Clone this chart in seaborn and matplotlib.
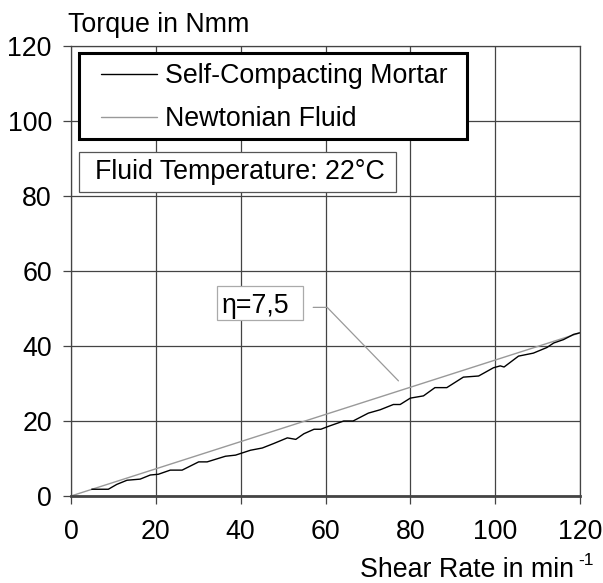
import matplotlib
matplotlib.use("Agg")
import matplotlib.pyplot as plt
from matplotlib.patches import Rectangle
import pandas as pd
import seaborn as sns

# shear rate in 1/min and torque in Nmm
rate_mortar = [4.9, 8.8, 10.8, 13.2, 16.3, 18.7, 20.6, 23.4, 26.2, 30.1, 32.1,
               36.4, 38.8, 42.3, 45.1, 47.8, 51.0, 53.0, 54.9, 57.3, 58.9, 61.0,
               64.3, 66.5, 70.1, 72.9, 76.0, 77.6, 80.0, 83.1, 85.8, 88.6, 92.5,
               96.1, 99.6, 101.2, 102.1, 105.5, 109.0, 112.2, 113.8, 116.1,
               118.5, 119.9]
torque_mortar = [1.8, 1.8, 3.1, 4.2, 4.5, 5.6, 5.8, 6.9, 6.9, 9.1, 9.1,
                 10.6, 10.9, 12.2, 12.8, 14.0, 15.5, 15.1, 16.6, 17.8, 17.8, 18.7,
                 20.0, 20.0, 22.1, 23.0, 24.4, 24.4, 26.1, 26.7, 28.9, 28.9, 31.7,
                 32.0, 34.2, 34.7, 34.4, 37.3, 38.1, 39.6, 40.8, 41.7,
                 43.1, 43.5]

# newtonian reference line (eta = 7,5)
rate_newton = [0, 120]
torque_newton = [0, 43.5]

x_ticks = [0, 20, 40, 60, 80, 100, 120]
y_ticks = [0, 20, 40, 60, 80, 100, 120]

sns.set_style("white")
plt.rcParams["font.family"] = ["Liberation Sans", "DejaVu Sans"]
plt.rcParams["font.size"] = 19.3
plt.rcParams["text.color"] = "black"
plt.rcParams["xtick.labelcolor"] = "black"
plt.rcParams["ytick.labelcolor"] = "black"

W, H = 603, 583
fig = plt.figure(figsize=(W / 100, H / 100), dpi=100)
ax = fig.add_axes([71 / W, 87 / H, 509 / W, 450 / H])

df_m = pd.DataFrame({"rate": rate_mortar, "torque": torque_mortar})
df_n = pd.DataFrame({"rate": rate_newton, "torque": torque_newton})

sns.lineplot(data=df_n, x="rate", y="torque", color="#999999", lw=1.0,
             label="Newtonian Fluid", ax=ax, legend=False)
sns.lineplot(data=df_m, x="rate", y="torque", color="black", lw=1.0,
             label="Self-Compacting Mortar", ax=ax, legend=False)

ax.set_xlim(0, 120)
ax.set_ylim(0, 120)
ax.set_xticks(x_ticks)
ax.set_yticks(y_ticks)
ax.set_xlabel("")
ax.set_ylabel("")
ax.grid(True, color="#444444", lw=0.9)
for side in ["left", "right", "top"]:
    ax.spines[side].set_color("#444444")
    ax.spines[side].set_linewidth(0.9)
ax.spines["bottom"].set_color("#444444")
ax.spines["bottom"].set_linewidth(2.0)
ax.tick_params(axis="both", direction="out", length=5.8, width=0.9,
               color="#444444", labelsize=19.3, labelcolor="black",
               bottom=True, left=True)
ax.tick_params(axis="y", pad=8)
ax.tick_params(axis="x", pad=11)

# legend: frame drawn by hand, entries placed inside
ax.add_patch(Rectangle((8 / 509, (496 - 139) / 450), 388 / 509, 86 / 450,
                       transform=ax.transAxes, fill=True, facecolor="white",
                       edgecolor="black", lw=2.2, zorder=5))
lines = ax.get_lines()
leg = ax.legend([lines[1], lines[0]], ["Self-Compacting Mortar", "Newtonian Fluid"],
                loc="upper left", bbox_to_anchor=((101 - 71) / 509, (496 - 63) / 450),
                frameon=False, borderpad=0, borderaxespad=0, handlelength=2.1,
                handletextpad=0.3, labelspacing=0.64, fontsize=19.3)
leg.set_zorder(6)
for t in leg.get_texts():
    t.set_color("black")

# fluid temperature box
ax.add_patch(Rectangle((8 / 509, (496 - 192) / 450), 317 / 509, 40 / 450,
                       transform=ax.transAxes, facecolor="white",
                       edgecolor="#555555", lw=0.9, zorder=5))
ax.text((95 - 71) / 509, (496 - 179) / 450, "Fluid Temperature: 22°C",
        transform=ax.transAxes, va="baseline", ha="left", fontsize=19.3, zorder=6)

# viscosity label with leader line
ax.add_patch(Rectangle((34.4, 46.85), 20.3, 9.07, facecolor="white",
                       edgecolor="#aaaaaa", lw=0.9, zorder=5))
ax.text(35.6, 48.7, "η=7,5", va="baseline", ha="left", fontsize=19.3, zorder=6)
ax.plot([57.1, 60.4, 77.2], [50.3, 50.3, 30.7], color="#999999", lw=0.9)

fig.text(68 / W, (H - 32) / H, "Torque in Nmm", fontsize=19.3,
         ha="left", va="baseline")
fig.text(574 / W, (H - 577) / H, "Shear Rate in min", fontsize=19.3,
         ha="right", va="baseline")
fig.text(578 / W, (H - 565) / H, "-1", fontsize=12.5, ha="left", va="baseline")

fig.savefig("out.png", dpi=100)
